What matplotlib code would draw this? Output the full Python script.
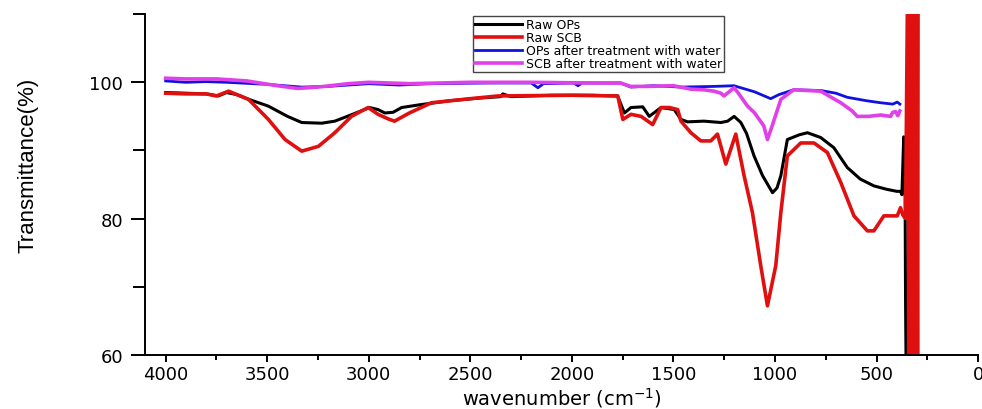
import matplotlib.pyplot as plt
from matplotlib.ticker import MultipleLocator

plt.rcParams['font.family'] = ['DejaVu Sans']

# Raw OPs
wn_ops = [4000, 3900, 3800, 3740, 3700, 3650, 3600, 3494, 3400, 3330, 3232, 3167, 3080, 2996,
          2954, 2921, 2880, 2838, 2750, 2600, 2450, 2350, 2340, 2300, 2100, 1900, 1775,
          1741, 1709, 1651, 1619, 1561, 1496, 1463, 1430, 1350, 1266, 1233, 1201, 1168,
          1140, 1103, 1061, 1012, 990, 971, 939, 880, 840, 775, 710, 644, 580, 513, 450,
          400, 382, 375, 366, 362, 360, 358, 357, 356, 355, 354]
t_ops = [98.5, 98.4, 98.3, 98.0, 98.5, 98.2, 97.6, 96.5, 95.0, 94.1, 94.0, 94.3, 95.3, 96.3,
         96.0, 95.5, 95.6, 96.3, 96.7, 97.3, 97.7, 97.9, 98.3, 97.9, 98.1, 98.1, 98.0,
         95.5, 96.3, 96.4, 95.0, 96.3, 96.0, 94.55, 94.2, 94.3, 94.1, 94.3, 95.0, 94.1,
         92.5, 89.2, 86.3, 83.8, 84.5, 86.3, 91.6, 92.3, 92.6, 91.9, 90.4, 87.5, 85.8, 84.8, 84.3,
         84.0, 84.0, 83.5, 92.0, 85.0, 90.0, 75.0, 68.0, 64.0, 60.5, 55.0]

# Raw SCB
wn_scb = [4000, 3900, 3800, 3750, 3690, 3592, 3494, 3412, 3330, 3248, 3167, 3085, 3003, 2954,
          2898, 2873, 2800, 2691, 2500, 2364, 2000, 1792, 1774, 1749, 1709, 1659, 1602,
          1561, 1520, 1479, 1463, 1414, 1365, 1316, 1283, 1242, 1193, 1152, 1111, 1070,
          1037, 996, 971, 939, 873, 808, 742, 676, 611, 545, 513, 464, 398, 382, 370, 357,
          344, 341, 338, 335, 332, 329, 326, 322, 318, 314, 310, 306, 302, 298, 295]
t_scb = [98.4, 98.3, 98.3, 98.0, 98.7, 97.5, 94.55, 91.6, 89.9, 90.6, 92.6, 95.0, 96.3, 95.3,
         94.55, 94.3, 95.5, 97.0, 97.6, 98.0, 98.1, 98.0, 98.0, 94.55, 95.3, 95.0, 93.8,
         96.3, 96.3, 96.0, 94.3, 92.6, 91.4, 91.4, 92.4, 88.0, 92.4, 86.3, 80.9, 73.1,
         67.2, 73.1, 80.9, 89.2, 91.1, 91.1, 89.7, 85.3, 80.4, 78.2, 78.2, 80.4, 80.4, 81.6, 80.5, 80.0,
         125, 40, 125, 40, 125, 40, 125, 40, 125, 40, 125, 40, 125, 40, 125]

# OPs after treatment with water
wn_ops_w = [4000, 3900, 3800, 3700, 3500, 3330, 3200, 3000, 2850, 2700, 2400, 2200, 2167, 2140,
            1990, 1970, 1950, 1760, 1710, 1600, 1463, 1300, 1202, 1100, 1021, 980, 908, 775,
            700, 644, 550, 480, 420, 398, 385]
t_ops_w = [100.2, 100.0, 100.1, 100.0, 99.7, 99.3, 99.4, 99.8, 99.6, 99.8, 99.9, 99.9, 99.2, 99.8,
           99.9, 99.5, 99.9, 99.9, 99.3, 99.5, 99.3, 99.4, 99.5, 98.6, 97.6, 98.2, 98.9, 98.8,
           98.4, 97.8, 97.3, 97.0, 96.8, 97.1, 96.8]

# SCB after treatment with water
wn_scb_w = [4000, 3900, 3750, 3600, 3450, 3350, 3250, 3100, 3000, 2800, 2500, 2200, 1900, 1760,
            1710, 1627, 1500, 1414, 1350, 1300, 1266, 1251, 1201, 1180, 1135, 1100, 1055, 1037,
            1015, 971, 908, 775, 676, 620, 595, 540, 480, 431, 420, 406, 395, 385]
t_scb_w = [100.6, 100.5, 100.5, 100.2, 99.5, 99.1, 99.3, 99.8, 100.0, 99.8, 100.0, 100.0, 99.9, 99.9,
           99.4, 99.4, 99.5, 99.0, 98.9, 98.7, 98.4, 98.0, 99.2, 98.4, 96.5, 95.5, 93.6, 91.6,
           93.5, 97.5, 98.9, 98.7, 97.0, 95.8, 95.0, 95.0, 95.2, 95.0, 95.6, 95.7, 95.1, 95.8]

fig = plt.figure(figsize=(9.82, 4.10), dpi=100)
ax = fig.add_axes([0.148, 0.132, 0.848, 0.831])

ax.plot(wn_ops, t_ops, color='black', lw=2.2, label='Raw OPs')
ax.plot(wn_scb, t_scb, color='#e01010', lw=2.6, label='Raw SCB')
ax.plot(wn_ops_w, t_ops_w, color='#1010e0', lw=2.0, label='OPs after treatment with water')
ax.plot(wn_scb_w, t_scb_w, color='#e040e8', lw=2.6, label='SCB after treatment with water')

ax.set_xlim(4100, 0)
ax.set_ylim(60, 110)
ax.xaxis.set_major_locator(MultipleLocator(500))
ax.xaxis.set_minor_locator(MultipleLocator(250))
ax.yaxis.set_major_locator(MultipleLocator(20))
ax.yaxis.set_minor_locator(MultipleLocator(10))
ax.tick_params(which='both', width=1.4, direction='out')
ax.tick_params(axis='x', which='major', length=5, labelsize=13, pad=2)
ax.tick_params(axis='x', which='minor', length=3.5)
ax.tick_params(axis='y', which='major', length=10, labelsize=13, pad=6)
ax.tick_params(axis='y', which='minor', length=9)

for side in ['top', 'right']:
    ax.spines[side].set_visible(False)
for side in ['left', 'bottom']:
    ax.spines[side].set_linewidth(1.4)

ax.set_xlabel('wavenumber (cm$^{-1}$)', fontsize=14, labelpad=2)
ax.set_ylabel('Transmittance(%)', fontsize=16,
              family=['Liberation Sans Narrow', 'Liberation Sans', 'DejaVu Sans'])
ax.yaxis.set_label_coords(-0.128, 0.56)

leg = ax.legend(loc='upper center', bbox_to_anchor=(0.544, 1.012), fontsize=9,
                handlelength=3.8, labelspacing=0.0, borderpad=0.15, handletextpad=0.3,
                fancybox=False, framealpha=1)
leg.get_frame().set_edgecolor('#444444')
leg.get_frame().set_linewidth(1.0)

fig.savefig('out.png', dpi=100)
